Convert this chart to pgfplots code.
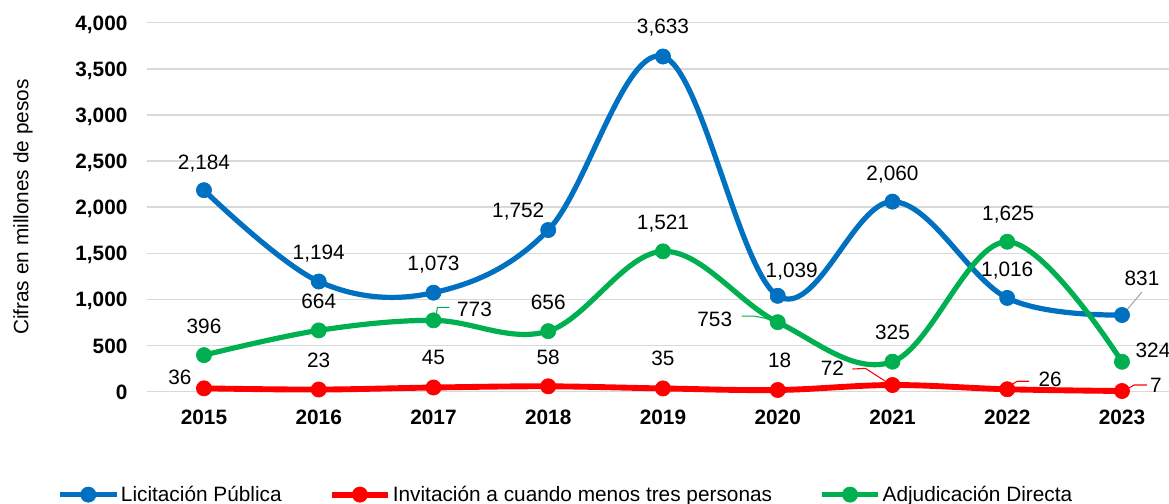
\documentclass[border=0pt]{standalone}
\usepackage{fontspec}
\setmainfont{Liberation Sans}
\usepackage{pgfplots}
\usepackage{pgfplotstable}
\pgfplotsset{compat=1.18}
\definecolor{licblue}{HTML}{0070C0}
\definecolor{invred}{HTML}{FF0000}
\definecolor{adjgreen}{HTML}{00B050}
\definecolor{gridgray}{HTML}{D9D9D9}
\newcommand{\chartfont}{\fontsize{15.6}{18}\selectfont}

% x = year index, y = value, dx/dy = label offset from the point in px (dy up)
\pgfplotstableread{
x y dx dy
0 2184 0 28
1 1194 0 29
2 1073 0 30
3 1752 -30 20
4 3633 0 30
5 1039 14 26
6 2060 0 29
7 1016 0 29
8 831 20 37
}\lic
\pgfplotstableread{
x y dx dy
0 36 -24 11
1 23 0 30
2 45 0 30
3 58 0 29
4 35 0 30
5 18 2 30
6 72 -60 17
7 26 43 10
8 7 34 6
}\inv
\pgfplotstableread{
x y dx dy
0 396 0 29.5
1 664 0 29
2 773 41 11
3 656 0 29.5
4 1521 0 29
5 753 -63 3.5
6 325 0 30
7 1625 1 29
8 324 31 12
}\adj

\pgfplotsset{
  labels/.style={draw=none, mark=none, forget plot,
    point meta=\thisrow{y},
    visualization depends on={\thisrow{dx}\as\dx},
    visualization depends on={\thisrow{dy}\as\dy},
    nodes near coords={\pgfmathprintnumber{\pgfplotspointmeta}},
    every node near coord/.style={font=\chartfont, text=black, anchor=base,
      inner sep=0pt, xshift=\dx*0.75pt, yshift=\dy*0.75pt-5.6pt}},
  series/.style={color=#1, line width=3.9pt, smooth, tension=0.6, mark=*,
    mark size=5.7pt, mark options={solid, line width=0.5pt, fill=#1}},
}

\begin{document}
\begin{tikzpicture}
\begin{axis}[
  name=ax,
  scale only axis, width=774.56pt, height=276.75pt,
  xmin=-0.5, xmax=8.5, ymin=0, ymax=4000, enlargelimits=false, clip=false,
  xtick={0,...,8},
  xticklabels={2015,2016,2017,2018,2019,2020,2021,2022,2023},
  ytick={0,500,...,4000},
  /pgf/number format/.cd, 1000 sep={,}, assume math mode=true, /pgfplots/.cd,
  axis line style={draw=none}, major tick length=0pt,
  ymajorgrids, grid style={gridgray, line width=1.1pt},
  xticklabel style={font=\chartfont\bfseries, anchor=base, inner sep=0pt, yshift=-25pt},
  yticklabel style={font=\chartfont\bfseries, anchor=base east, inner sep=0pt,
    xshift=-14.2pt, yshift=-5.6pt},
  ylabel={Cifras en millones de pesos},
  ylabel style={font=\chartfont, at={(axis description cs:-0.1197,0.5)}, anchor=center},
  legend style={draw=none, fill=none, font=\chartfont, at={(0.4061,-0.279)},
    anchor=center, inner sep=0pt, nodes={inner sep=1.5pt},
    /tikz/every even column/.append style={column sep=34pt}},
  legend columns=3, legend cell align=left,
  legend image code/.code={\draw[#1, mark repeat=2, mark phase=2]
    plot coordinates {(0pt,0pt) (21pt,0pt) (42pt,0pt)};},
]
\addplot[series=licblue] table[x=x, y=y] {\lic};
\addlegendentry{Licitación Pública}
\addplot[series=invred, line width=4.4pt] table[x=x, y=y] {\inv};
\addlegendentry{Invitación a cuando menos tres personas}
\addplot[series=adjgreen] table[x=x, y=y] {\adj};
\addlegendentry{Adjudicación Directa}

\addplot[labels] table[x=x, y=y] {\lic};
\addplot[labels] table[x=x, y=y] {\inv};
\addplot[labels] table[x=x, y=y] {\adj};

% leader lines
\draw[adjgreen, line width=0.8pt] ([shift={(2.25pt,5.25pt)}]axis cs:2,773)
  -- ([shift={(3pt,9.75pt)}]axis cs:2,773) -- ([shift={(12pt,9.75pt)}]axis cs:2,773);
\draw[adjgreen, line width=0.8pt] ([shift={(-27pt,4.5pt)}]axis cs:5,753)
  -- ([shift={(-17.25pt,4.5pt)}]axis cs:5,753) -- ([shift={(-6pt,2.25pt)}]axis cs:5,753);
\draw[invred, line width=0.8pt] ([shift={(-30pt,12pt)}]axis cs:6,72)
  -- ([shift={(-20.25pt,12.5pt)}]axis cs:6,72) -- ([shift={(-4.5pt,2.25pt)}]axis cs:6,72);
\draw[invred, line width=0.8pt] ([shift={(3.75pt,3.75pt)}]axis cs:7,26)
  -- ([shift={(7.5pt,6pt)}]axis cs:7,26) -- ([shift={(16.5pt,6pt)}]axis cs:7,26);
\draw[invred, line width=0.8pt] ([shift={(5.25pt,2.25pt)}]axis cs:8,7)
  -- ([shift={(9pt,4.5pt)}]axis cs:8,7) -- ([shift={(18.75pt,4.5pt)}]axis cs:8,7);
\draw[gray!70, line width=0.8pt] ([shift={(3pt,3pt)}]axis cs:8,831)
  -- ([shift={(15pt,17.25pt)}]axis cs:8,831);
\end{axis}
\pgfresetboundingbox
\path[use as bounding box] ([shift={(-109.95pt,-84pt)}]ax.south west)
  rectangle ([shift={(-7.76pt,17pt)}]ax.north east);
\end{tikzpicture}
\end{document}
